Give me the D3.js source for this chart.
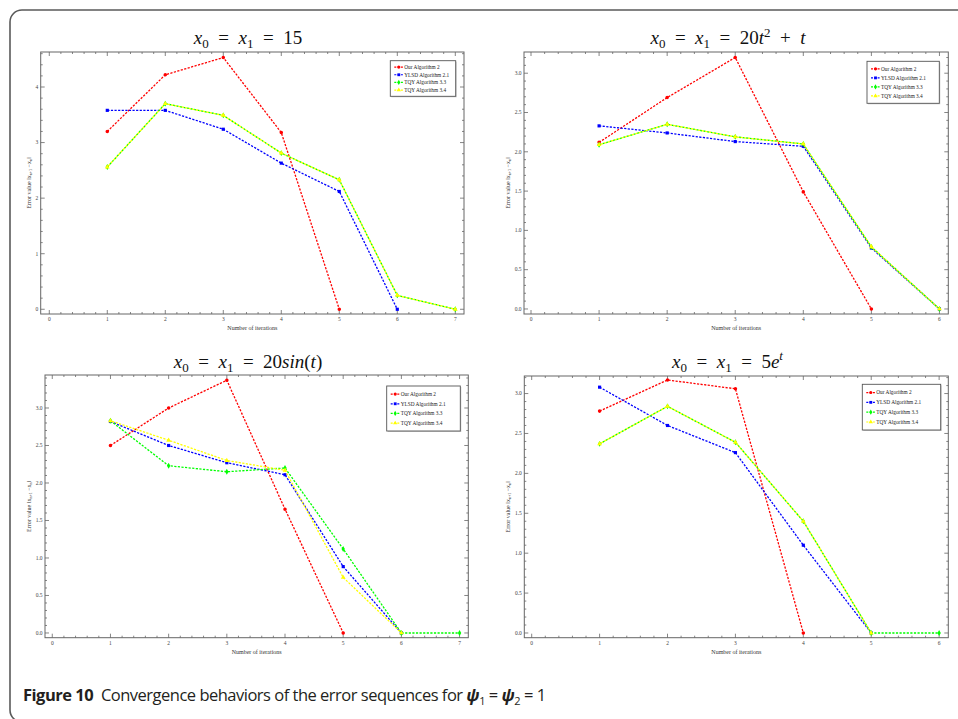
<!DOCTYPE html>
<html><head><meta charset="utf-8">
<script src="https://cdn.jsdelivr.net/npm/d3@7"></script>
<style>body{margin:0;background:#fff}</style></head>
<body>
<script>
// ---------- data ----------
const seriesNames = ["Our Algorithm 2", "YLSD Algorithm 2.1", "TQY Algorithm 3.3", "TQY Algorithm 3.4"];

// panel 1: x0 = x1 = 15 (iterations start at 1)
const p1Red    = [3.20, 4.22, 4.53, 3.18, 0];
const p1Blue   = [3.58, 3.58, 3.24, 2.63, 2.12, 0];
const p1Green  = [2.56, 3.70, 3.49, 2.81, 2.33, 0.25, 0];
const p1Yellow = [2.56, 3.70, 3.49, 2.81, 2.33, 0.25, 0];

// panel 2: x0 = x1 = 20t^2 + t
const p2Red    = [2.12, 2.69, 3.20, 1.49, 0];
const p2Blue   = [2.33, 2.24, 2.13, 2.07, 0.775, 0];
const p2Green  = [2.09, 2.35, 2.19, 2.10, 0.79, 0];
const p2Yellow = [2.09, 2.35, 2.19, 2.10, 0.79, 0];

// panel 3: x0 = x1 = 20 sin(t)
const p3Red    = [2.50, 3.00, 3.37, 1.65, 0];
const p3Blue   = [2.82, 2.50, 2.27, 2.11, 0.885, 0];
const p3Green  = [2.83, 2.23, 2.15, 2.20, 1.12, 0, 0];
const p3Yellow = [2.83, 2.57, 2.30, 2.17, 0.74, 0];

// panel 4: x0 = x1 = 5e^t
const p4Red    = [2.78, 3.17, 3.06, 0];
const p4Blue   = [3.08, 2.60, 2.26, 1.10, 0];
const p4Green  = [2.37, 2.84, 2.39, 1.40, 0, 0];
const p4Yellow = [2.37, 2.84, 2.39, 1.40, 0];

const xTicks7 = [0, 1, 2, 3, 4, 5, 6, 7];
const xTicks6 = [0, 1, 2, 3, 4, 5, 6];
const yTicksInt = [0, 1, 2, 3, 4];
const yTicksHalf = [0, 0.5, 1.0, 1.5, 2.0, 2.5, 3.0];

// ---------- layout / style ----------
const colors = ["#ff0000", "#0000ff", "#00ff00", "#ffff00"];
const symbols = [d3.symbolCircle, d3.symbolSquare, d3.symbolDiamond, d3.symbolTriangle];

const panels = [
  {title: "15", data: [p1Red, p1Blue, p1Green, p1Yellow],
   L: 40.7, R: 464, T: 52, B: 314, xDom: [-0.148, 7.15], yDom: [-0.085, 4.63],
   xTicks: xTicks7, yTicks: yTicksInt, yMinor: 0.2, yFmt: d3.format("d"),
   tx: 248, ty: 44, ylx: 30.7, lg: {x: 390.3, y: 60.7, w: 65.4, h: 35.6}},
  {title: "t2", data: [p2Red, p2Blue, p2Green, p2Yellow],
   L: 524, R: 948.3, T: 52, B: 314, xDom: [-0.103, 6.13], yDom: [-0.064, 3.27],
   xTicks: xTicks6, yTicks: yTicksHalf, yMinor: 0.1, yFmt: d3.format(".1f"),
   tx: 728, ty: 44, ylx: 509.5, lg: {x: 867, y: 61.3, w: 72.3, h: 42}},
  {title: "sin", data: [p3Red, p3Blue, p3Green, p3Yellow],
   L: 45, R: 468.3, T: 375, B: 637.7, xDom: [-0.125, 7.15], yDom: [-0.063, 3.44],
   xTicks: xTicks7, yTicks: yTicksHalf, yMinor: 0.1, yFmt: d3.format(".1f"),
   tx: 248, ty: 367.5, ylx: 30.5, lg: {x: 386.7, y: 386, w: 73.6, h: 45}},
  {title: "exp", data: [p4Red, p4Blue, p4Green, p4Yellow],
   L: 524.3, R: 948.3, T: 376, B: 637.7, xDom: [-0.109, 6.135], yDom: [-0.059, 3.22],
   xTicks: xTicks6, yTicks: yTicksHalf, yMinor: 0.1, yFmt: d3.format(".1f"),
   tx: 727.5, ty: 368, ylx: 509.5, lg: {x: 862.3, y: 384.3, w: 78.4, h: 45.7}}
];

const W = 958, H = 719;
const svg = d3.select("body").append("svg").attr("width", W).attr("height", H)
  .style("font-family", "'Liberation Serif', serif");

// outer frame
svg.append("rect").attr("x", 10).attr("y", 10).attr("width", 1100).attr("height", 712)
  .attr("rx", 12).attr("fill", "none").attr("stroke", "#5a5a5a").attr("stroke-width", 1.6);

const serif = "'Liberation Serif', 'Times New Roman', serif";
const EQ = "\u2002=\u2002";

function titleText(g, p) {
  const t = g.append("text").attr("x", p.tx).attr("y", p.ty).attr("text-anchor", "middle")
    .attr("font-family", serif).attr("font-size", 19).attr("fill", "#111");
  const it = s => t.append("tspan").attr("font-style", "italic").text(s);
  const rm = s => t.append("tspan").text(s);
  const sub = s => t.append("tspan").attr("font-size", 13).attr("dy", 4).text(s);
  it("x"); sub("0"); t.append("tspan").attr("dy", -4).text(EQ);
  it("x"); sub("1"); t.append("tspan").attr("dy", -4).text(EQ);
  if (p.title === "15") { rm("15"); }
  else if (p.title === "t2") { rm("20"); it("t"); t.append("tspan").attr("font-size", 13).attr("dy", -7).text("2"); t.append("tspan").attr("dy", 7).text("\u2002+\u2002"); it("t"); }
  else if (p.title === "sin") { rm("20"); it("sin"); rm("("); it("t"); rm(")"); }
  else { rm("5"); it("e"); t.append("tspan").attr("font-size", 13).attr("font-style", "italic").attr("dy", -8).text("t"); }
}

panels.forEach(p => {
  const g = svg.append("g");
  const x = d3.scaleLinear().domain(p.xDom).range([p.L, p.R]);
  const y = d3.scaleLinear().domain(p.yDom).range([p.B, p.T]);

  titleText(g, p);

  // frame
  g.append("rect").attr("x", p.L).attr("y", p.T).attr("width", p.R - p.L).attr("height", p.B - p.T)
    .attr("fill", "none").attr("stroke", "#666").attr("stroke-width", 1);

  // ticks: major + minor on all four sides
  const xMaj = p.xTicks;
  const xMin = d3.range(Math.ceil(p.xDom[0] / 0.2) * 0.2, p.xDom[1], 0.2)
    .filter(v => Math.abs(v - Math.round(v)) > 1e-6);
  const yMaj = p.yTicks;
  const yStep = p.yTicks[1] - p.yTicks[0];
  const yMin = d3.range(Math.ceil(p.yDom[0] / p.yMinor) * p.yMinor, p.yDom[1], p.yMinor)
    .filter(v => Math.abs(v / yStep - Math.round(v / yStep)) > 1e-6);

  const tk = g.append("g").attr("stroke", "#666").attr("stroke-width", 0.8);
  xMaj.forEach(v => {
    tk.append("line").attr("x1", x(v)).attr("x2", x(v)).attr("y1", p.B).attr("y2", p.B - 4);
    tk.append("line").attr("x1", x(v)).attr("x2", x(v)).attr("y1", p.T).attr("y2", p.T + 4);
  });
  xMin.forEach(v => {
    tk.append("line").attr("x1", x(v)).attr("x2", x(v)).attr("y1", p.B).attr("y2", p.B - 2);
    tk.append("line").attr("x1", x(v)).attr("x2", x(v)).attr("y1", p.T).attr("y2", p.T + 2);
  });
  yMaj.forEach(v => {
    tk.append("line").attr("y1", y(v)).attr("y2", y(v)).attr("x1", p.L).attr("x2", p.L + 4);
    tk.append("line").attr("y1", y(v)).attr("y2", y(v)).attr("x1", p.R).attr("x2", p.R - 4);
  });
  yMin.forEach(v => {
    tk.append("line").attr("y1", y(v)).attr("y2", y(v)).attr("x1", p.L).attr("x2", p.L + 2);
    tk.append("line").attr("y1", y(v)).attr("y2", y(v)).attr("x1", p.R).attr("x2", p.R - 2);
  });

  // tick labels
  g.append("g").selectAll("text").data(xMaj).join("text")
    .attr("x", d => x(d)).attr("y", p.B + 7).attr("text-anchor", "middle")
    .attr("font-size", 5.5).attr("fill", "#444").text(d => d);
  g.append("g").selectAll("text").data(yMaj).join("text")
    .attr("x", p.L - 2.5).attr("y", d => y(d) + 1.8).attr("text-anchor", "end")
    .attr("font-size", 5.5).attr("fill", "#444").text(d => p.yFmt(d));

  // axis labels
  g.append("text").attr("x", (p.L + p.R) / 2).attr("y", p.B + 16).attr("text-anchor", "middle")
    .attr("font-size", 6).attr("fill", "#333").text("Number of iterations");
  const yl = g.append("text").attr("transform", `translate(${p.ylx},${(p.T + p.B) / 2}) rotate(-90)`)
    .attr("text-anchor", "middle").attr("font-size", 6).attr("fill", "#333");
  yl.append("tspan").text("Error value \u2016x");
  yl.append("tspan").attr("font-size", 4).attr("dy", 1.2).text("n+1");
  yl.append("tspan").attr("dy", -1.2).text(" \u2212x");
  yl.append("tspan").attr("font-size", 4).attr("dy", 1.2).text("n");
  yl.append("tspan").attr("dy", -1.2).text("\u2016");

  // series
  const line = d3.line().x(d => x(d[0])).y(d => y(d[1]));
  p.data.forEach((vals, i) => {
    const pts = vals.map((v, k) => [k + 1, v]);
    g.append("path").datum(pts).attr("d", line).attr("fill", "none")
      .attr("stroke", colors[i]).attr("stroke-width", 1.3)
      .attr("stroke-dasharray", "2.2,1.4").attr("stroke-dashoffset", i === 3 ? 1.8 : 0);
    g.append("g").selectAll("path").data(pts).join("path")
      .attr("transform", d => `translate(${x(d[0])},${y(d[1])})`)
      .attr("d", d3.symbol().type(symbols[i]).size(10)).attr("fill", colors[i]);
  });

  // legend
  const lg = p.lg;
  const lgG = g.append("g");
  lgG.append("rect").attr("x", lg.x + 1).attr("y", lg.y + 1).attr("width", lg.w).attr("height", lg.h)
    .attr("fill", "#ccc");
  lgG.append("rect").attr("x", lg.x).attr("y", lg.y).attr("width", lg.w).attr("height", lg.h)
    .attr("fill", "#fff").attr("stroke", "#555").attr("stroke-width", 0.9);
  seriesNames.forEach((name, i) => {
    const cy = lg.y + lg.h * 0.18 + i * (lg.h * 0.215);
    const x0 = lg.x + 4, x1 = lg.x + 13;
    lgG.append("line").attr("x1", x0).attr("x2", x1).attr("y1", cy).attr("y2", cy)
      .attr("stroke", colors[i]).attr("stroke-width", 1.2).attr("stroke-dasharray", "2,1.3");
    lgG.append("path").attr("transform", `translate(${(x0 + x1) / 2},${cy})`)
      .attr("d", d3.symbol().type(symbols[i]).size(8)).attr("fill", colors[i]);
    lgG.append("text").attr("x", x1 + 1).attr("y", cy + 1.8).attr("font-size", 5.3)
      .attr("fill", "#222").text(name);
  });
});

// caption
const cap = svg.append("text").attr("x", 23).attr("y", 701)
  .attr("font-family", "'Open Sans', sans-serif")
  .attr("font-size", 16.5).attr("letter-spacing", -0.5).attr("fill", "#231f20");
cap.append("tspan").attr("font-weight", "bold").text("Figure 10");
cap.append("tspan").text("\u2002Convergence behaviors of the error sequences for ");
cap.append("tspan").attr("font-style", "italic").attr("font-weight", "bold").text("\u03c8");
cap.append("tspan").attr("font-size", 11).attr("dy", 4).text("1");
cap.append("tspan").attr("dy", -4).text(" = ");
cap.append("tspan").attr("font-style", "italic").attr("font-weight", "bold").text("\u03c8");
cap.append("tspan").attr("font-size", 11).attr("dy", 4).text("2");
cap.append("tspan").attr("dy", -4).text(" = 1");
</script>
</body></html>
